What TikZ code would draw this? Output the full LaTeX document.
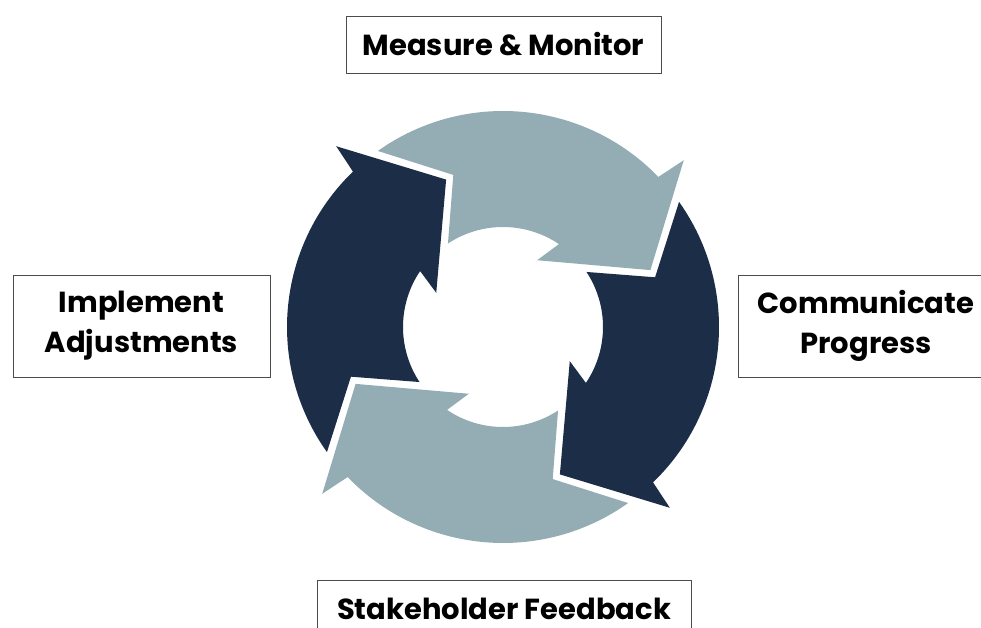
\documentclass[tikz,border=0pt]{standalone}
\usepackage{fontspec}
\setmainfont{Poppins}
\definecolor{ringlight}{HTML}{94ACB4}
\definecolor{ringdark}{HTML}{1C2D48}

\begin{document}
\begin{tikzpicture}[x=1pt,y=1pt,
  stage/.style={draw=black!70,line width=0.8pt,fill=white,align=center,inner sep=0pt,
    font=\fontsize{29}{40}\selectfont\bfseries},
]
\useasboundingbox (0,0) rectangle (981,628);
\clip (0,0) rectangle (981,628);
\def\outr{216}
\def\inr{100}

% four curved arrows, one per quarter
\foreach \rot/\col in {0/ringlight,-90/ringdark,-180/ringlight,-270/ringdark}{
  \fill[\col,shift={(503,301)},rotate=\rot] (125.4:\outr) -- (108.1:160) -- (123.4:\inr)
    arc[start angle=123.4,end angle=56,radius=\inr] -- (62.9:75) -- (21.1:158) -- (42.7:246)
    -- (44:\outr) arc[start angle=44,end angle=125.4,radius=\outr] -- cycle;
}

\node[stage,minimum width=315pt,minimum height=57pt] (measure) at (503.5,583.5) {Measure \& Monitor};
\node[stage,minimum width=256pt,minimum height=102pt] (communicate) at (866,302) {Communicate\\Progress};
\node[stage,minimum width=374pt,minimum height=57pt] (feedback) at (504,19.5) {Stakeholder Feedback};
\node[stage,minimum width=257pt,minimum height=102pt] (implement) at (141.5,302) {Implement\\Adjustments};
\end{tikzpicture}
\end{document}
